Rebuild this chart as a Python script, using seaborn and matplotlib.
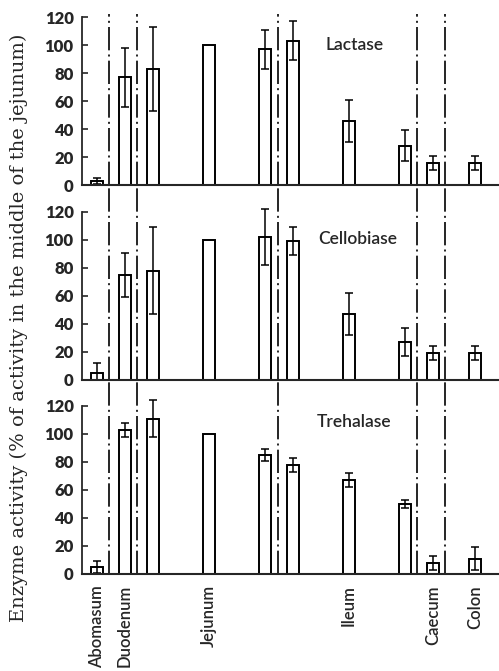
import numpy as np
import pandas as pd
import matplotlib
matplotlib.use("Agg")
import matplotlib.pyplot as plt
import seaborn as sns

# ---- data ----
site_pos = [1, 2, 3, 5, 7, 8, 10, 12, 13, 14.5]
lactase = [3, 77, 83, 100, 97, 103, 46, 28, 16, 16]
lactase_err = [2, 21, 30, 0, 14, 14, 15, 11, 5, 5]
cellobiase = [5, 75, 78, 100, 102, 99, 47, 27, 19, 19]
cellobiase_err = [7, 16, 31, 0, 20, 10, 15, 10, 5, 5]
trehalase = [5, 103, 111, 100, 85, 78, 67, 50, 8, 11]
trehalase_err = [4, 5, 13, 0, 4, 5, 5, 3, 5, 8]
enzymes = ["Lactase", "Cellobiase", "Trehalase"]
region_labels = ["Abomasum", "Duodenum", "Jejunum", "Ileum", "Caecum", "Colon"]
region_label_pos = [1, 2, 5, 10, 13, 14.5]
region_bounds = [1.43, 2.43, 7.46, 12.43, 13.43]
y_ticks = [0, 20, 40, 60, 80, 100, 120]

rows = []
for name, vals, errs in [("Lactase", lactase, lactase_err),
                         ("Cellobiase", cellobiase, cellobiase_err),
                         ("Trehalase", trehalase, trehalase_err)]:
    for p, v, e in zip(site_pos, vals, errs):
        rows.append({"enzyme": name, "pos": p, "value": v, "err": e})
df = pd.DataFrame(rows)

sns.set_style("ticks")
plt.rcParams["font.family"] = ["Lato", "DejaVu Sans"]

fig = plt.figure(figsize=(4.99, 6.71), dpi=100)
W, H = 499.0, 671.0
left = 82 / W
width = (W - 82) / W
panels_px = [(14, 185), (185, 380), (380, 574)]
px_per_unit = 1.4
title_xy = [(10.2, 100), (10.3, 101), (10.2, 108.5)]

for i, (enz, (tp, bp)) in enumerate(zip(enzymes, panels_px)):
    ax = fig.add_axes([left, (H - bp) / H, width, (bp - tp) / H])
    sub = df[df.enzyme == enz]
    sns.barplot(data=sub, x="pos", y="value", native_scale=True, width=0.42,
                color="white", saturation=1, edgecolor="black", linewidth=1.4,
                errorbar=None, ax=ax)
    s = sub[sub.err > 0]
    ax.errorbar(s.pos, s.value, yerr=s.err, fmt="none", ecolor="black",
                elinewidth=1.1, capsize=3, capthick=1.1)
    for b in region_bounds:
        ax.axvline(b, color="black", lw=1.2, ls=(0, (14, 2.5, 1.2, 2.5)),
                   clip_on=False)
    ax.set_xlim(0.464, 15.36)
    ax.set_ylim(0, (bp - tp) / px_per_unit)
    ax.set_yticks(y_ticks)
    ax.set_yticklabels([str(t) for t in y_ticks], fontweight="heavy",
                       fontsize=12)
    ax.tick_params(axis="y", direction="in", length=4, width=1.2, pad=6)
    sns.despine(ax=ax, top=True, right=True)
    ax.spines["left"].set_bounds(0, 120)
    ax.spines["left"].set_linewidth(1.3)
    ax.spines["bottom"].set_linewidth(1.5)
    ax.set_xlabel("")
    ax.set_ylabel("")
    ax.text(title_xy[i][0], title_xy[i][1], enz, fontsize=12.5,
            fontweight="semibold", ha="center", va="center")
    if i < 2:
        ax.set_xticks([])
    else:
        ax.set_xticks(region_label_pos)
        ax.set_xticklabels(region_labels, rotation=90, fontsize=12,
                           fontweight="semibold", va="top", ha="center")
        ax.tick_params(axis="x", length=0, pad=8)
    ax.patch.set_alpha(0)

fig.text(0.038, 0.511,
         "Enzyme activity (% of activity in the middle of the jejunum)",
         rotation=90, ha="center", va="center", fontsize=14,
         family=["DejaVu Serif"])

fig.savefig("out.png", dpi=100)
